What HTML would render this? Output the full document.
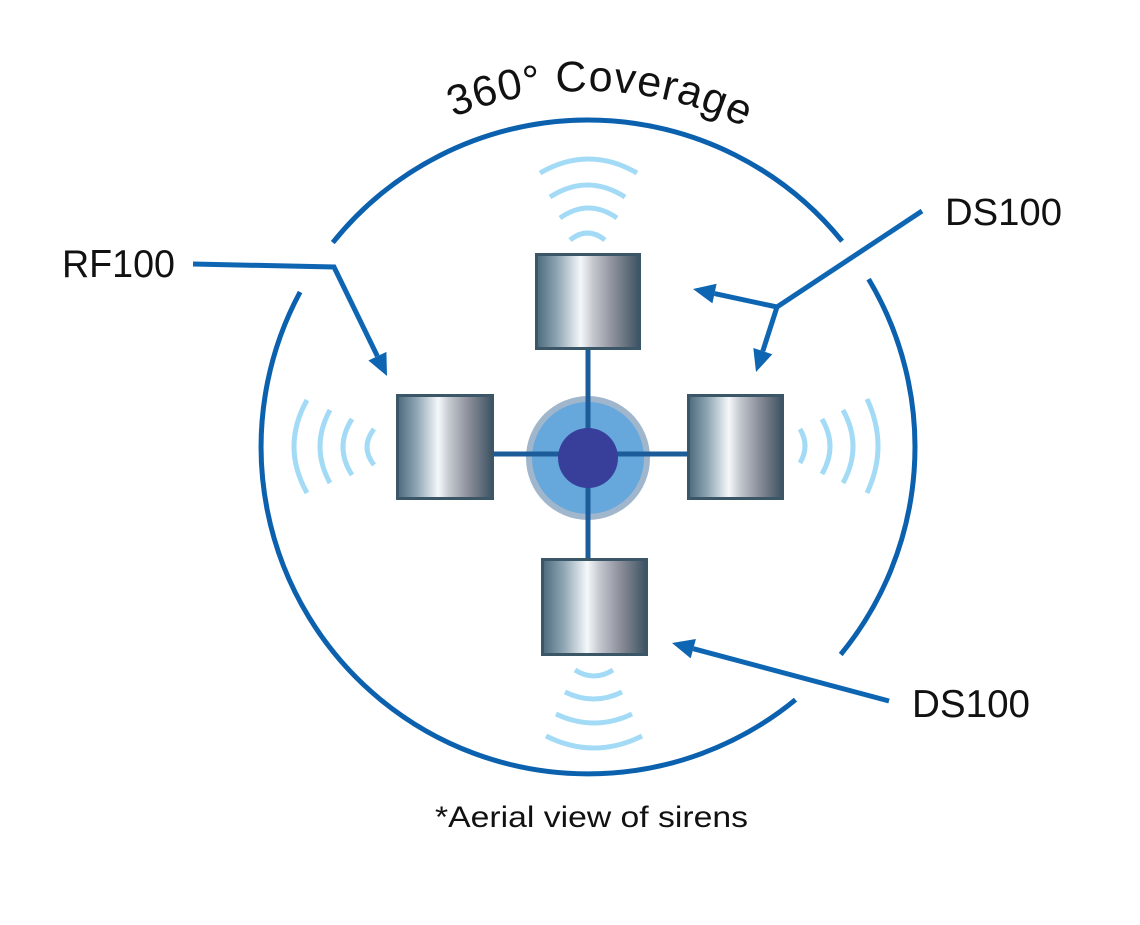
<!DOCTYPE html>
<html>
<head>
<meta charset="utf-8">
<style>
  html,body{margin:0;padding:0;background:#fff;}
  svg{display:block;}
  text{font-family:"Liberation Sans",sans-serif;fill:#111;}
</style>
</head>
<body>
<svg width="1140" height="925" viewBox="0 0 1140 925" xmlns="http://www.w3.org/2000/svg">
  <defs>
    <linearGradient id="box" x1="0" y1="0" x2="1" y2="0">
      <stop offset="0" stop-color="#4b6a7c"/>
      <stop offset="0.2" stop-color="#8ea5b3"/>
      <stop offset="0.43" stop-color="#f5f8fa"/>
      <stop offset="0.55" stop-color="#c3c7ce"/>
      <stop offset="0.75" stop-color="#8b8e99"/>
      <stop offset="1" stop-color="#3d5262"/>
    </linearGradient>
    <path id="tp" d="M 286.1 258.3 A 356 356 0 0 1 902.3 279.9" fill="none"/>
  </defs>

  <!-- big coverage circle (three arcs with gaps) -->
  <g fill="none" stroke="#0b61ae" stroke-width="5">
    <path d="M 868.6 279.1 A 327 327 0 0 1 840.7 654.5"/>
    <path d="M 795.5 699.7 A 327 327 0 0 1 300.1 292.0"/>
    <path d="M 332.8 242.6 A 327 327 0 0 1 842.1 241.2"/>
  </g>

  <!-- curved title -->
  <text font-size="43" letter-spacing="1"><textPath href="#tp" startOffset="50%" text-anchor="middle">360° Coverage</textPath></text>

  <!-- sound waves -->
  <g fill="none" stroke="#a3dbf6" stroke-width="5">
    <path d="M 540 173 Q 588.5 145 637 173"/>
    <path d="M 550 197 Q 587.5 173 625 197"/>
    <path d="M 560 218 Q 588.5 198 617 218"/>
    <path d="M 570 240 Q 587.5 226 605 240"/>

    <path d="M 307 400 Q 281 446.5 307 493"/>
    <path d="M 330 410 Q 310 446.5 330 483"/>
    <path d="M 352 419 Q 334 447 352 475"/>
    <path d="M 374 429 Q 360 447 374 465"/>

    <path d="M 800 429 Q 810 446 800 463"/>
    <path d="M 822 419 Q 838 446.5 822 474"/>
    <path d="M 843 410 Q 863 446.5 843 483"/>
    <path d="M 867 399 Q 889 446 867 493"/>

    <path d="M 575 670 Q 594 682 613 670"/>
    <path d="M 565 692 Q 593.5 706 622 692"/>
    <path d="M 556 714 Q 594 732 632 714"/>
    <path d="M 546 736 Q 594 760 642 736"/>
  </g>

  <!-- central hub -->
  <circle cx="588" cy="458" r="62" fill="#9fb6cc"/>
  <circle cx="588" cy="458" r="56" fill="#66a7dc"/>
  <g stroke="#1d5c9a" stroke-width="5">
    <line x1="588" y1="350" x2="588" y2="558"/>
    <line x1="494" y1="454" x2="687" y2="454"/>
  </g>
  <circle cx="588" cy="458" r="30" fill="#373f9a"/>

  <!-- siren boxes -->
  <g fill="url(#box)" stroke="#3b5667" stroke-width="3">
    <rect x="536.5" y="254.5" width="103" height="94"/>
    <rect x="397.5" y="395.5" width="95" height="103"/>
    <rect x="688.5" y="395.5" width="94" height="103"/>
    <rect x="542.5" y="559.5" width="104" height="95"/>
  </g>

  <!-- arrows -->
  <g stroke="#0e66b3" stroke-width="5" fill="none" stroke-linejoin="miter">
    <polyline points="193,264 334,267 377.4,356.2"/>
    <polyline points="922,211 777,307 714.5,293.6"/>
    <line x1="777" y1="307" x2="762.8" y2="351.1"/>
    <line x1="889" y1="701" x2="693.3" y2="648.7"/>
  </g>
  <g fill="#0e66b3">
    <polygon points="387,376 368.4,360.5 386.4,351.9"/>
    <polygon points="693,289 716.6,283.8 712.4,303.4"/>
    <polygon points="756,372 772.3,354.2 753.3,348.0"/>
    <polygon points="672,643 695.9,639.0 690.7,658.4"/>
  </g>

  <!-- labels -->
  <text x="62" y="277" font-size="39" textLength="113" lengthAdjust="spacingAndGlyphs">RF100</text>
  <text x="945" y="225" font-size="38" textLength="117" lengthAdjust="spacingAndGlyphs">DS100</text>
  <text x="912" y="717" font-size="39" textLength="118" lengthAdjust="spacingAndGlyphs">DS100</text>
  <text x="435" y="827" font-size="30" textLength="313" lengthAdjust="spacingAndGlyphs">*Aerial view of sirens</text>
</svg>
</body>
</html>
